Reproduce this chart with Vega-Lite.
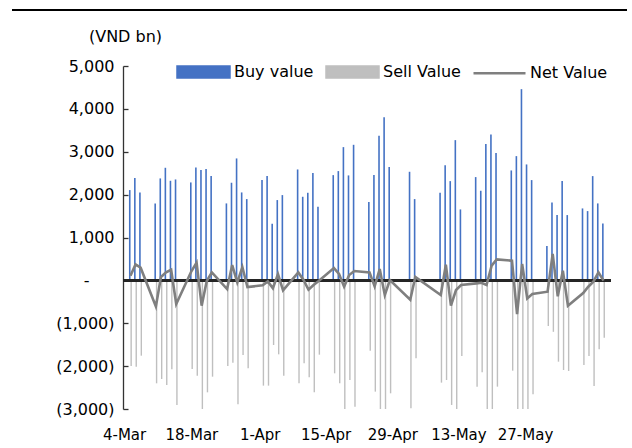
{
  "$schema": "https://vega.github.io/schema/vega-lite/v6.json",
  "width": 488,
  "height": 343,
  "autosize": {"type": "none"},
  "padding": {"left": 123, "top": 66, "right": 21, "bottom": 39},
  "background": "white",
  "config": {
    "view": {"stroke": null},
    "font": "DejaVu Sans",
    "axis": {"labelColor": "black", "titleColor": "black", "labelFont": "DejaVu Sans", "titleFont": "DejaVu Sans"}
  },
  "data": {
    "values": [
      {"date": "2026-03-04", "Buy value": 2106, "Sell Value": -1997, "Net Value": 109},
      {"date": "2026-03-05", "Buy value": 2385, "Sell Value": -2012, "Net Value": 373},
      {"date": "2026-03-06", "Buy value": 2051, "Sell Value": -1756, "Net Value": 295},
      {"date": "2026-03-09", "Buy value": 1795, "Sell Value": -2401, "Net Value": -606},
      {"date": "2026-03-10", "Buy value": 2378, "Sell Value": -2300, "Net Value": 78},
      {"date": "2026-03-11", "Buy value": 2626, "Sell Value": -2440, "Net Value": 186},
      {"date": "2026-03-12", "Buy value": 2323, "Sell Value": -2075, "Net Value": 248},
      {"date": "2026-03-13", "Buy value": 2354, "Sell Value": -2906, "Net Value": -552},
      {"date": "2026-03-16", "Buy value": 2284, "Sell Value": -2067, "Net Value": 217},
      {"date": "2026-03-17", "Buy value": 2634, "Sell Value": -2222, "Net Value": 412},
      {"date": "2026-03-18", "Buy value": 2572, "Sell Value": -3162, "Net Value": -590},
      {"date": "2026-03-19", "Buy value": 2595, "Sell Value": -2611, "Net Value": -16},
      {"date": "2026-03-20", "Buy value": 2432, "Sell Value": -2246, "Net Value": 186},
      {"date": "2026-03-23", "Buy value": 1795, "Sell Value": -1997, "Net Value": -202},
      {"date": "2026-03-24", "Buy value": 2277, "Sell Value": -1919, "Net Value": 358},
      {"date": "2026-03-25", "Buy value": 2844, "Sell Value": -2890, "Net Value": -46},
      {"date": "2026-03-26", "Buy value": 2051, "Sell Value": -1740, "Net Value": 311},
      {"date": "2026-03-27", "Buy value": 1896, "Sell Value": -2051, "Net Value": -155},
      {"date": "2026-03-30", "Buy value": 2339, "Sell Value": -2455, "Net Value": -116},
      {"date": "2026-03-31", "Buy value": 2432, "Sell Value": -2455, "Net Value": -23},
      {"date": "2026-04-01", "Buy value": 1321, "Sell Value": -1507, "Net Value": -186},
      {"date": "2026-04-02", "Buy value": 1873, "Sell Value": -1725, "Net Value": 148},
      {"date": "2026-04-03", "Buy value": 1989, "Sell Value": -2222, "Net Value": -233},
      {"date": "2026-04-06", "Buy value": 2587, "Sell Value": -2401, "Net Value": 186},
      {"date": "2026-04-07", "Buy value": 1950, "Sell Value": -1935, "Net Value": 15},
      {"date": "2026-04-08", "Buy value": 2043, "Sell Value": -2261, "Net Value": -218},
      {"date": "2026-04-09", "Buy value": 2502, "Sell Value": -2611, "Net Value": -109},
      {"date": "2026-04-10", "Buy value": 1717, "Sell Value": -1733, "Net Value": -16},
      {"date": "2026-04-13", "Buy value": 2455, "Sell Value": -2168, "Net Value": 287},
      {"date": "2026-04-14", "Buy value": 2549, "Sell Value": -2401, "Net Value": 148},
      {"date": "2026-04-15", "Buy value": 3108, "Sell Value": -3256, "Net Value": -148},
      {"date": "2026-04-16", "Buy value": 2448, "Sell Value": -2323, "Net Value": 125},
      {"date": "2026-04-17", "Buy value": 3162, "Sell Value": -2945, "Net Value": 217},
      {"date": "2026-04-20", "Buy value": 1826, "Sell Value": -1639, "Net Value": 187},
      {"date": "2026-04-21", "Buy value": 2455, "Sell Value": -2595, "Net Value": -140},
      {"date": "2026-04-22", "Buy value": 3372, "Sell Value": -3108, "Net Value": 264},
      {"date": "2026-04-23", "Buy value": 3807, "Sell Value": -4149, "Net Value": -342},
      {"date": "2026-04-24", "Buy value": 2642, "Sell Value": -2634, "Net Value": 8},
      {"date": "2026-04-28", "Buy value": 2533, "Sell Value": -2984, "Net Value": -451},
      {"date": "2026-04-29", "Buy value": 1896, "Sell Value": -1818, "Net Value": 78},
      {"date": "2026-05-04", "Buy value": 2043, "Sell Value": -2385, "Net Value": -342},
      {"date": "2026-05-05", "Buy value": 2688, "Sell Value": -2323, "Net Value": 365},
      {"date": "2026-05-06", "Buy value": 2315, "Sell Value": -2906, "Net Value": -591},
      {"date": "2026-05-07", "Buy value": 3271, "Sell Value": -3496, "Net Value": -225},
      {"date": "2026-05-08", "Buy value": 1655, "Sell Value": -1764, "Net Value": -109},
      {"date": "2026-05-11", "Buy value": 2409, "Sell Value": -2479, "Net Value": -70},
      {"date": "2026-05-12", "Buy value": 2090, "Sell Value": -2145, "Net Value": -55},
      {"date": "2026-05-13", "Buy value": 3178, "Sell Value": -3287, "Net Value": -109},
      {"date": "2026-05-14", "Buy value": 3403, "Sell Value": -3061, "Net Value": 342},
      {"date": "2026-05-15", "Buy value": 2968, "Sell Value": -2479, "Net Value": 489},
      {"date": "2026-05-18", "Buy value": 2564, "Sell Value": -2106, "Net Value": 458},
      {"date": "2026-05-19", "Buy value": 2898, "Sell Value": -3683, "Net Value": -785},
      {"date": "2026-05-20", "Buy value": 4460, "Sell Value": -4079, "Net Value": 381},
      {"date": "2026-05-21", "Buy value": 2704, "Sell Value": -3124, "Net Value": -420},
      {"date": "2026-05-22", "Buy value": 2339, "Sell Value": -2658, "Net Value": -319},
      {"date": "2026-05-25", "Buy value": 800, "Sell Value": -1064, "Net Value": -264},
      {"date": "2026-05-26", "Buy value": 1818, "Sell Value": -1200, "Net Value": 618},
      {"date": "2026-05-27", "Buy value": 1523, "Sell Value": -1896, "Net Value": -373},
      {"date": "2026-05-28", "Buy value": 2315, "Sell Value": -2090, "Net Value": 225},
      {"date": "2026-05-29", "Buy value": 1523, "Sell Value": -2113, "Net Value": -590},
      {"date": "2026-06-01", "Buy value": 1678, "Sell Value": -1974, "Net Value": -296},
      {"date": "2026-06-02", "Buy value": 1616, "Sell Value": -1764, "Net Value": -148},
      {"date": "2026-06-03", "Buy value": 2432, "Sell Value": -2463, "Net Value": -31},
      {"date": "2026-06-04", "Buy value": 1795, "Sell Value": -1608, "Net Value": 187},
      {"date": "2026-06-05", "Buy value": 1329, "Sell Value": -1336, "Net Value": -7}
    ]
  },
  "layer": [
    {
      "mark": {"type": "bar", "width": 1.6, "xOffset": -0.7, "clip": true},
      "encoding": {
        "x": {
          "field": "date", "type": "temporal",
          "scale": {"type": "utc", "domain": [
            {"year": 2026, "month": 3, "date": 3, "hours": 12, "minutes": 27, "utc": true},
            {"year": 2026, "month": 6, "date": 5, "hours": 11, "minutes": 33, "utc": true}
          ]},
          "axis": {
            "values": [
              {"year": 2026, "month": 3, "date": 3, "hours": 12, "minutes": 40, "utc": true},
              {"year": 2026, "month": 3, "date": 15, "hours": 23, "minutes": 27, "utc": true},
              {"year": 2026, "month": 3, "date": 29, "hours": 10, "minutes": 0, "utc": true},
              {"year": 2026, "month": 4, "date": 11, "hours": 8, "minutes": 33, "utc": true},
              {"year": 2026, "month": 4, "date": 24, "hours": 11, "minutes": 14, "utc": true},
              {"year": 2026, "month": 5, "date": 7, "hours": 11, "minutes": 10, "utc": true},
              {"year": 2026, "month": 5, "date": 20, "hours": 13, "minutes": 24, "utc": true}
            ],
            "labelExpr": "['4-Mar','18-Mar','1-Apr','15-Apr','29-Apr','13-May','27-May'][round(datum.index * 6)]",
            "domain": false, "ticks": false, "grid": false, "title": null,
            "labelPadding": 18, "labelFontSize": 15, "labelOverlap": false, "labelFlush": false, "labelBound": false,
            "labelOffset": {"condition": {"test": "datum.index == 0", "value": -4}, "value": 0}
          }
        },
        "y": {
          "field": "Buy value", "type": "quantitative",
          "scale": {"domain": [-3000, 5000], "nice": false, "zero": false},
          "axis": {
            "values": [-3000, -2000, -1000, 0, 1000, 2000, 3000, 4000, 5000],
            "labelExpr": "datum.value == 0 ? '-' : datum.value < 0 ? '(' + format(-datum.value, ',') + ')' : format(datum.value, ',')",
            "grid": false, "domainColor": "#333333", "domainWidth": 1.3,
            "tickColor": "#333333", "tickSize": -5, "tickWidth": 1.3,
            "labelPadding": {"condition": {"test": "datum.value == 0", "value": 39}, "value": 14},
            "labelFontSize": 16,
            "title": "(VND bn)", "titleAngle": 0, "titleAlign": "center", "titleBaseline": "middle",
            "titleX": 2, "titleY": -30, "titleFontSize": 16, "titleFontWeight": "normal"
          }
        },
        "color": {
          "datum": "Buy value",
          "scale": {"domain": ["Buy value", "Sell Value", "Net Value"], "range": ["#4472C4", "#BFBFBF", "#7F7F7F"]},
          "legend": {
            "orient": "none", "legendX": 53, "legendY": -21.5, "direction": "horizontal",
            "title": null, "padding": 0, "symbolSize": 2704, "symbolType": "M-1,-0.21H1V0.21H-1Z",
            "labelFontSize": 16, "labelOffset": 3, "columnPadding": 7, "labelColor": "black",
            "symbolOpacity": 1,
            "encode": {
              "symbols": {
                "update": {
                  "shape": {"signal": "datum.value === 'Net Value' ? 'M-1,0H1' : 'M-1,-0.21H1V0.21H-1Z'"},
                  "fill": {"signal": "datum.value === 'Net Value' ? 'transparent' : scale('color', datum.value)"},
                  "stroke": {"signal": "datum.value === 'Net Value' ? '#7F7F7F' : 'transparent'"},
                  "strokeWidth": {"value": 2.5},
                  "opacity": {"value": 1}
                }
              }
            }
          }
        }
      }
    },
    {
      "mark": {"type": "bar", "width": 1.4, "xOffset": 0.7, "clip": true},
      "encoding": {
        "x": {"field": "date", "type": "temporal"},
        "y": {"field": "Sell Value", "type": "quantitative"},
        "color": {"datum": "Sell Value"}
      }
    },
    {
      "mark": {"type": "rule", "color": "#262626", "strokeWidth": 1.5},
      "encoding": {"y": {"datum": 0}}
    },
    {
      "mark": {"type": "line", "strokeWidth": 2.6, "clip": true},
      "encoding": {
        "x": {"field": "date", "type": "temporal"},
        "y": {"field": "Net Value", "type": "quantitative"},
        "color": {"datum": "Net Value"}
      }
    },
    {
      "mark": {"type": "rule", "color": "black", "strokeWidth": 2, "clip": false},
      "encoding": {
        "x": {"datum": {"year": 2026, "month": 2, "date": 8, "hours": 19, "minutes": 10, "utc": true}, "type": "temporal"},
        "x2": {"datum": {"year": 2026, "month": 6, "date": 9, "hours": 12, "minutes": 30, "utc": true}},
        "y": {"datum": 6306, "type": "quantitative"}
      }
    }
  ]
}
